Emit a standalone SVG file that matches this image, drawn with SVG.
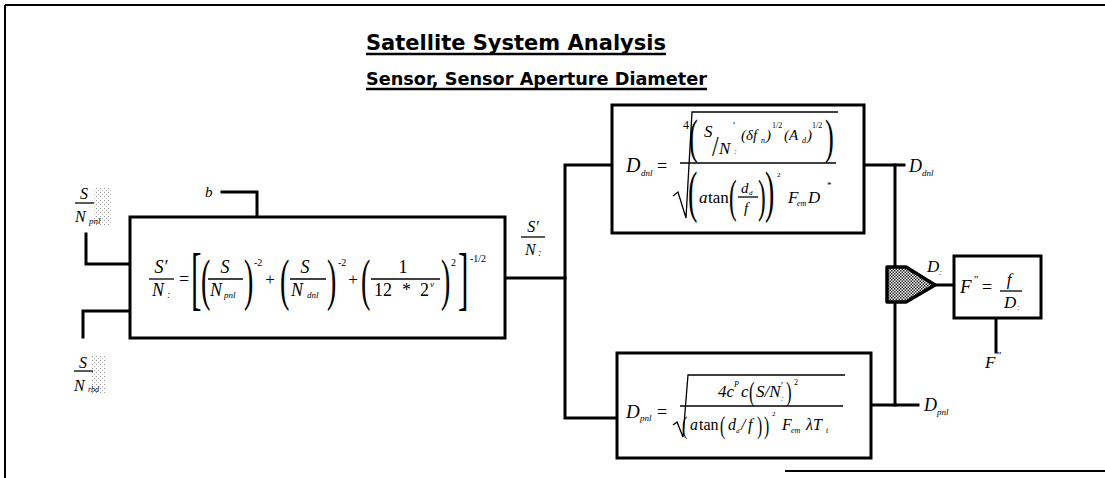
<svg xmlns="http://www.w3.org/2000/svg" width="1105" height="478" viewBox="0 0 1105 478">
<defs>
<style>
.ln{stroke:#000;stroke-width:3;fill:none;stroke-linecap:square}
.bx{stroke:#000;stroke-width:3;fill:#fff}
.thin{stroke:#000;stroke-width:1.3;fill:none}
.m{font-family:"Liberation Serif","Times New Roman",serif;font-style:italic;fill:#000}
.r{font-family:"Liberation Serif","Times New Roman",serif;font-style:normal;fill:#000}
.h{font-family:"DejaVu Sans Condensed","Liberation Sans Narrow","Liberation Sans",sans-serif;font-weight:bold;fill:#000}
</style>
<pattern id="stip" width="3" height="3" patternUnits="userSpaceOnUse">
<rect width="3" height="3" fill="#fff"/>
<rect x="0" y="0" width="1.5" height="1.5" fill="#222"/>
<rect x="1.5" y="1.5" width="1.5" height="1.5" fill="#222"/>
</pattern>
<pattern id="halo" width="4" height="4" patternUnits="userSpaceOnUse">
<rect x="0" y="0" width="1" height="1" fill="#999"/>
<rect x="2" y="2" width="1" height="1" fill="#bbb"/>
</pattern>
</defs>
<rect width="1105" height="478" fill="#fff"/>

<g id="frame">
<line x1="5" y1="5" x2="1105" y2="5" stroke="#000" stroke-width="2"/>
<line x1="5" y1="5" x2="5" y2="478" stroke="#000" stroke-width="2"/>
<line x1="785" y1="471" x2="1105" y2="471" stroke="#000" stroke-width="2"/>
</g>

<g id="title">
<text class="h" x="366" y="50" font-size="22" textLength="300" lengthAdjust="spacingAndGlyphs">Satellite System Analysis</text>
<line x1="366" y1="54" x2="666" y2="54" stroke="#000" stroke-width="2.5"/>
<text class="h" x="366" y="85" font-size="17" textLength="341" lengthAdjust="spacingAndGlyphs">Sensor, Sensor Aperture Diameter</text>
<line x1="366" y1="89" x2="707" y2="89" stroke="#000" stroke-width="2.5"/>
</g>

<g id="connectors">
<path class="ln" d="M222,192 H257 V217"/>
<path class="ln" d="M86,234 V264 H130"/>
<path class="ln" d="M130,311 H83 V337"/>
<path class="ln" d="M505,278 H565"/>
<path class="ln" d="M612,165 H565 V418 H617"/>
<path class="ln" d="M864,165 H904"/>
<path class="ln" d="M895,165 V267"/>
<path class="ln" d="M871,405 H918"/>
<path class="ln" d="M895,302 V405"/>
<path class="ln" d="M935,285 H954"/>
<path class="ln" d="M996,318 V352"/>
</g>

<g id="input-b">
<text class="m" x="205" y="197" font-size="15">b</text>
</g>

<g id="input-snr-pnl">
<rect x="93" y="188" width="19" height="38" fill="url(#halo)"/>
<text class="m" x="84" y="199" font-size="16" text-anchor="middle">S</text>
<line class="thin" x1="75" y1="203" x2="94" y2="203"/>
<text class="m" x="75" y="222" font-size="16">N</text>
<text class="m" x="89" y="224" font-size="9">pnl</text>
</g>

<g id="input-snr-rbd">
<rect x="92" y="355" width="14" height="38" fill="url(#halo)"/>
<text class="m" x="83" y="368" font-size="16" text-anchor="middle">S</text>
<line class="thin" x1="74" y1="371" x2="93" y2="371"/>
<text class="m" x="74" y="391" font-size="16">N</text>
<text class="m" x="88" y="392" font-size="8">rbd</text>
</g>

<g id="snr-combine">
<rect class="bx" x="130" y="217" width="375" height="121"/>
<text class="m" x="161" y="273" font-size="18" text-anchor="middle">S′</text>
<line class="thin" x1="149" y1="279" x2="174" y2="279"/>
<text class="m" x="152" y="296" font-size="18">N</text>
<text class="m" x="167" y="298" font-size="10">:</text>
<text class="r" x="184" y="285" font-size="18" text-anchor="middle">=</text>
<text class="r" transform="translate(191,302) scale(0.45,1)" font-size="70">[</text>
<text class="r" transform="translate(201,299) scale(0.5,1)" font-size="56">(</text>
<text class="m" x="225" y="273" font-size="18" text-anchor="middle">S</text>
<line class="thin" x1="208" y1="279" x2="243" y2="279"/>
<text class="m" x="210" y="296" font-size="18">N</text>
<text class="m" x="224" y="298" font-size="9">pnl</text>
<text class="r" transform="translate(244,299) scale(0.5,1)" font-size="56">)</text>
<text class="r" x="254" y="266" font-size="10">-2</text>
<text class="r" x="270" y="285" font-size="17" text-anchor="middle">+</text>
<text class="r" transform="translate(280,299) scale(0.5,1)" font-size="56">(</text>
<text class="m" x="305" y="273" font-size="18" text-anchor="middle">S</text>
<line class="thin" x1="290" y1="279" x2="326" y2="279"/>
<text class="m" x="291" y="296" font-size="18">N</text>
<text class="m" x="307" y="298" font-size="9">dnl</text>
<text class="r" transform="translate(327,299) scale(0.5,1)" font-size="56">)</text>
<text class="r" x="338" y="266" font-size="10">-2</text>
<text class="r" x="353" y="285" font-size="17" text-anchor="middle">+</text>
<text class="r" transform="translate(361,299) scale(0.5,1)" font-size="56">(</text>
<text class="r" x="403" y="273" font-size="18" text-anchor="middle">1</text>
<line class="thin" x1="371" y1="279" x2="440" y2="279"/>
<text class="r" x="374" y="296" font-size="18">12</text>
<text class="r" x="402" y="296" font-size="18">*</text>
<text class="r" x="420" y="296" font-size="18">2</text>
<text class="m" x="430" y="287" font-size="9">v</text>
<text class="r" transform="translate(441,299) scale(0.5,1)" font-size="56">)</text>
<text class="r" x="451" y="266" font-size="10">2</text>
<text class="r" transform="translate(458,302) scale(0.45,1)" font-size="70">]</text>
<text class="r" x="470" y="262" font-size="10">-1/2</text>
</g>

<g id="snr-label">
<text class="m" x="533" y="232" font-size="16" text-anchor="middle">S′</text>
<line class="thin" x1="521" y1="237" x2="545" y2="237"/>
<text class="m" x="525" y="255" font-size="16">N</text>
<text class="m" x="538" y="256" font-size="10">:</text>
</g>

<g id="detector-diameter">
<rect class="bx" x="612" y="105" width="252" height="128"/>
<text class="m" x="626" y="172" font-size="20">D</text>
<text class="m" x="641" y="176" font-size="9">dnl</text>
<text class="r" x="657" y="172" font-size="18">=</text>
<polyline class="thin" points="673,196 678,192 686,218 692,112 838,112" stroke-width="1.5"/>
<text class="r" x="683" y="129" font-size="12">4</text>
<text class="r" transform="translate(689,153) scale(0.55,1)" font-size="48">(</text>
<text class="m" x="704" y="137" font-size="17">S</text>
<text class="r" transform="translate(712,156) scale(0.8,1)" font-size="30">/</text>
<text class="m" x="719" y="154" font-size="17">N</text>
<text class="r" x="733" y="129" font-size="10">′</text>
<text class="m" x="734" y="154" font-size="9">:</text>
<text class="m" x="741" y="140" font-size="15">(δf</text>
<text class="m" x="761" y="143" font-size="8">n</text>
<text class="m" x="766" y="140" font-size="15">)</text>
<text class="r" x="772" y="128" font-size="8">1/2</text>
<text class="m" x="784" y="140" font-size="15">(A</text>
<text class="m" x="802" y="143" font-size="8">d</text>
<text class="m" x="807" y="140" font-size="15">)</text>
<text class="r" x="812" y="128" font-size="8">1/2</text>
<text class="r" transform="translate(825,153) scale(0.55,1)" font-size="48">)</text>
<line class="thin" x1="680" y1="163" x2="836" y2="163"/>
<text class="r" transform="translate(688,211) scale(0.5,1)" font-size="56">(</text>
<text class="m" x="699" y="203" font-size="17">a</text>
<text class="r" x="708" y="203" font-size="17">tan</text>
<text class="r" transform="translate(729,212) scale(0.5,1)" font-size="46">(</text>
<text class="m" x="741" y="193" font-size="15">d</text>
<text class="m" x="749" y="195" font-size="7">d</text>
<line class="thin" x1="738" y1="197" x2="758" y2="197"/>
<text class="m" x="744" y="213" font-size="15">f</text>
<text class="r" transform="translate(758,212) scale(0.5,1)" font-size="46">)</text>
<text class="r" transform="translate(765,211) scale(0.5,1)" font-size="56">)</text>
<text class="r" x="777" y="177" font-size="7">2</text>
<text class="m" x="788" y="203" font-size="17">F</text>
<text class="m" x="797" y="206" font-size="8">em</text>
<text class="m" x="808" y="203" font-size="17">D</text>
<text class="r" x="827" y="188" font-size="9">*</text>
</g>

<g id="pixel-diameter">
<rect class="bx" x="617" y="353" width="254" height="105"/>
<text class="m" x="626" y="418" font-size="19">D</text>
<text class="m" x="640" y="421" font-size="9">pnl</text>
<text class="r" x="657" y="418" font-size="18">=</text>
<polyline class="thin" points="673,425 677,422 683,437 688,375 845,375" stroke-width="1.5"/>
<text class="m" x="718" y="397" font-size="17">4c</text>
<text class="m" x="734" y="387" font-size="8">P</text>
<text class="m" x="741" y="397" font-size="17">c</text>
<text class="r" transform="translate(749,401) scale(0.6,1)" font-size="28">(</text>
<text class="m" x="756" y="397" font-size="17">S/N</text>
<text class="r" x="781" y="389" font-size="10">′</text>
<text class="m" x="781" y="401" font-size="8">:</text>
<text class="r" transform="translate(786,401) scale(0.6,1)" font-size="28">)</text>
<text class="r" x="794" y="385" font-size="8">2</text>
<line class="thin" x1="680" y1="406" x2="843" y2="406"/>
<text class="r" transform="translate(682,434) scale(0.6,1)" font-size="26">(</text>
<text class="m" x="690" y="430" font-size="16">a</text>
<text class="r" x="699" y="430" font-size="16">tan</text>
<text class="r" transform="translate(720,434) scale(0.6,1)" font-size="26">(</text>
<text class="m" x="728" y="430" font-size="16">d</text>
<text class="m" x="736" y="433" font-size="7">d</text>
<text class="m" x="741" y="430" font-size="16">/</text>
<text class="m" x="748" y="430" font-size="16">f</text>
<text class="r" transform="translate(757,434) scale(0.6,1)" font-size="26">)</text>
<text class="r" transform="translate(764,434) scale(0.6,1)" font-size="26">)</text>
<text class="r" x="772" y="416" font-size="7">2</text>
<text class="m" x="782" y="430" font-size="16">F</text>
<text class="m" x="791" y="433" font-size="8">em</text>
<text class="m" x="806" y="430" font-size="16">λT</text>
<text class="m" x="826" y="433" font-size="8">t</text>
</g>

<g id="diameter-labels">
<text class="m" x="909" y="172" font-size="18">D</text>
<text class="m" x="922" y="176" font-size="9">dnl</text>
<text class="m" x="924" y="411" font-size="18">D</text>
<text class="m" x="937" y="415" font-size="9">pnl</text>
<text class="m" x="927" y="272" font-size="17">D</text>
<text class="m" x="939" y="275" font-size="9">:</text>
</g>

<g id="select-max">
<polygon points="887,267 906,267 935,285 906,302 887,302" fill="url(#stip)" stroke="#000" stroke-width="3.5" stroke-linejoin="round"/>
</g>

<g id="fnumber">
<rect class="bx" x="954" y="256" width="87" height="62"/>
<text class="m" x="960" y="293" font-size="19">F</text>
<text class="r" x="974" y="283" font-size="11">″</text>
<text class="r" x="982" y="293" font-size="18">=</text>
<text class="m" x="1009" y="285" font-size="17" text-anchor="middle">f</text>
<line class="thin" x1="1000" y1="291" x2="1022" y2="291"/>
<text class="m" x="1004" y="308" font-size="17">D</text>
<text class="m" x="1017" y="310" font-size="9">:</text>
</g>

<g id="fnumber-label">
<text class="m" x="985" y="368" font-size="17">F</text>
<text class="r" x="997" y="359" font-size="11">″</text>
</g>
</svg>
